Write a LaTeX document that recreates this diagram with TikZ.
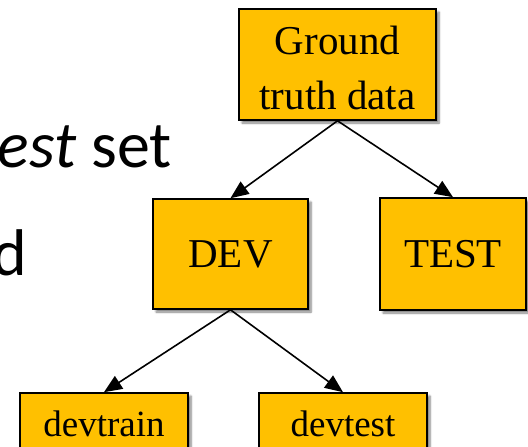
\documentclass[tikz,border=0pt]{standalone}
\usepackage{fontspec}
\setmainfont{Liberation Serif}
\newfontfamily\slidefont{Carlito}
\usetikzlibrary{arrows.meta,shadows.blur}
\definecolor{boxgold}{RGB}{255,192,0}
\begin{document}
\begin{tikzpicture}[x=1pt,y=-1pt,
	box/.style={draw=black, line width=1.6pt, fill=boxgold, inner sep=0pt, align=center,
		blur shadow={shadow xshift=3pt, shadow yshift=-3pt, shadow blur steps=6, shadow blur radius=2pt, shadow opacity=50}},
	bigbox/.style={box, font=\fontsize{41}{55}\selectfont},
	smallbox/.style={box, font=\fontsize{37}{44}\selectfont},
	slidetext/.style={anchor=base east, inner sep=0pt, font=\slidefont\fontsize{66}{79}\selectfont},
	link/.style={-{Triangle[length=18pt,width=15pt]}, line width=1.6pt}]
	\useasboundingbox (0,0) rectangle (528,447);
	\clip (0,0) rectangle (528,447);
	% Slide text
	\node[slidetext] (settext) at (172,167) {\textit{est} set};
	\node[slidetext] (dtext)   at (27,275)  {d};
	% Boxes
	\node[bigbox, minimum width=197pt, minimum height=111pt] (ground) at (337.5,64.5) {\rule{0pt}{36pt}Ground\\truth data};
	\node[bigbox, minimum width=155pt, minimum height=110pt] (dev)    at (230.5,254) {DEV};
	\node[bigbox, minimum width=146pt, minimum height=112pt] (test)   at (453,254)   {TEST};
	\node[smallbox, minimum width=168pt, minimum height=62pt] (devtrain) at (104,424) {devtrain};
	\node[smallbox, minimum width=168pt, minimum height=62pt] (devtest)  at (343,424) {devtest};
	% Arrows
	\draw[link] (ground.south) -- (dev.north);
	\draw[link] (ground.south) -- (test.north);
	\draw[link] (dev.south) -- (devtrain.north);
	\draw[link] (dev.south) -- (devtest.north);
\end{tikzpicture}
\end{document}
